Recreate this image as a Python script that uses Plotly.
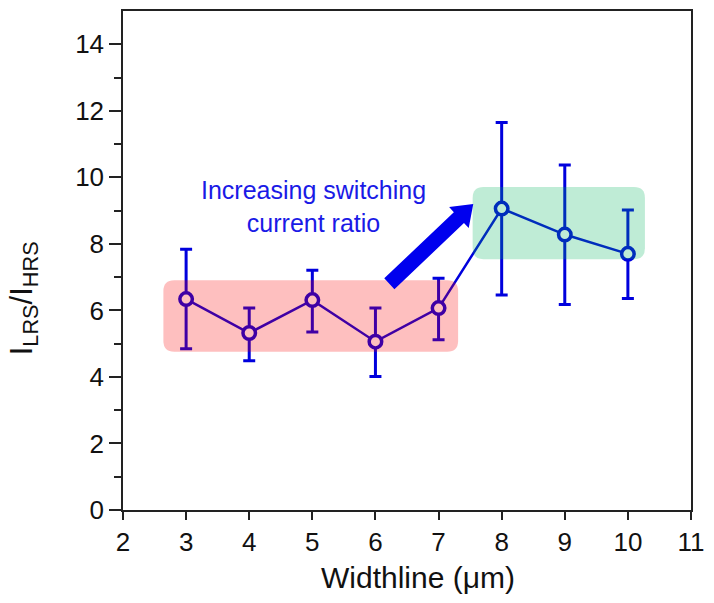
import plotly.graph_objects as go
import math

# ---- data ----
width_um = [3, 4, 5, 6, 7, 8, 9, 10]
ratio = [6.34, 5.32, 6.31, 5.06, 6.07, 9.06, 8.28, 7.70]
err_plus = [1.50, 0.75, 0.90, 1.01, 0.90, 2.59, 2.09, 1.32]
err_minus = [1.49, 0.83, 0.96, 1.05, 0.95, 2.60, 2.10, 1.34]
x_ticks = [2, 3, 4, 5, 6, 7, 8, 9, 10, 11]
y_ticks = [0, 2, 4, 6, 8, 10, 12, 14]

W, H = 714, 603
ML, MR, MT, MB = 123, 15, 9, 93
XR = (2, 11)
YR = (0, 15)
pw = W - ML - MR
ph = H - MT - MB
sx = pw / (XR[1] - XR[0])   # px per x unit
sy = ph / (YR[1] - YR[0])   # px per y unit

BLUE = "#0000DD"

fig = go.Figure()
fig.add_trace(go.Scatter(
    x=width_um, y=ratio, mode="lines+markers",
    line=dict(color=BLUE, width=2.5),
    marker=dict(symbol="circle", size=12.5, color="white",
                line=dict(color=BLUE, width=3.5)),
    error_y=dict(type="data", symmetric=False, array=err_plus,
                 arrayminus=err_minus, color=BLUE, thickness=3, width=6),
    showlegend=False, cliponaxis=False,
))


def rounded_rect(x0, y0, x1, y1, rpx=11):
    rx = rpx / sx
    ry = rpx / sy
    return (f"M {x0+rx},{y0} L {x1-rx},{y0} Q {x1},{y0} {x1},{y0+ry} "
            f"L {x1},{y1-ry} Q {x1},{y1} {x1-rx},{y1} "
            f"L {x0+rx},{y1} Q {x0},{y1} {x0},{y1-ry} "
            f"L {x0},{y0+ry} Q {x0},{y0} {x0+rx},{y0} Z")


shapes = [
    dict(type="path", xref="x", yref="y",
         path=rounded_rect(2.64, 4.76, 7.31, 6.91),
         fillcolor="rgba(250,0,0,0.25)", line=dict(width=0), layer="above"),
    dict(type="path", xref="x", yref="y",
         path=rounded_rect(7.54, 7.54, 10.27, 9.71),
         fillcolor="rgba(0,178,90,0.25)", line=dict(width=0), layer="above"),
]

# arrow polygon (defined in pixel geometry, converted to data units)
tail = (6.22, 6.80)
tip = (7.55, 9.20)
dx = (tip[0] - tail[0]) * sx
dy = (tip[1] - tail[1]) * sy
L = math.hypot(dx, dy)
ux, uy = dx / L, dy / L
nx, ny = -uy, ux
hw, hhw, hl = 7.5, 14.5, 20
base = L - hl


def pt(a, b):
    px = ux * a + nx * b
    py = uy * a + ny * b
    return (tail[0] + px / sx, tail[1] + py / sy)


poly = [pt(0, -hw), pt(base, -hw), pt(base, -hhw), pt(L, 0),
        pt(base, hhw), pt(base, hw), pt(0, hw)]
path = "M " + " L ".join(f"{p[0]},{p[1]}" for p in poly) + " Z"
shapes.append(dict(type="path", xref="x", yref="y", path=path,
                   fillcolor="#0000EE", line=dict(width=0), layer="above"))

fig.update_layout(
    width=W, height=H,
    margin=dict(l=ML, r=MR, t=MT, b=MB),
    paper_bgcolor="white", plot_bgcolor="white",
    font=dict(family="Liberation Sans, Arial, sans-serif", color="#111"),
    shapes=shapes,
    xaxis=dict(range=list(XR), tickvals=x_ticks, ticks="outside", ticklen=8,
               tickwidth=1.5, tickcolor="#222", showline=True, linewidth=1.5,
               linecolor="#222", mirror=True, showgrid=False, zeroline=False,
               tickfont=dict(size=26, color="#111")),
    yaxis=dict(range=list(YR), tickvals=y_ticks, ticks="outside", ticklen=12,
               tickwidth=1.5, tickcolor="#222", showline=True, linewidth=1.5,
               linecolor="#222", mirror=True, showgrid=False, zeroline=False,
               tickfont=dict(size=26, color="#111"),
               minor=dict(tickvals=[1, 3, 5, 7, 9, 11, 13], ticks="outside",
                          ticklen=7, tickwidth=1.5, tickcolor="#222")),
    annotations=[
        dict(text="Widthline (μm)", xref="paper", yref="paper",
             x=(422 - ML) / pw, y=(MT + ph - 578) / ph, showarrow=False,
             xanchor="center", yanchor="middle",
             font=dict(size=30, color="#111")),
        dict(text="I<sub>LRS</sub>/I<sub>HRS</sub>", xref="paper", yref="paper",
             x=(22 - ML) / pw, y=(MT + ph - 297) / ph, showarrow=False,
             textangle=-90, xanchor="center", yanchor="middle",
             font=dict(size=31, color="#111")),
        dict(text="Increasing switching<br>current ratio", xref="x", yref="y",
             x=2 + (316 - ML) / sx, y=(MT + ph - 205) / sy, showarrow=False,
             xanchor="center", yanchor="middle", align="center",
             font=dict(size=25, color="#1a1ae6")),
    ],
)

fig.write_html("out.html")
